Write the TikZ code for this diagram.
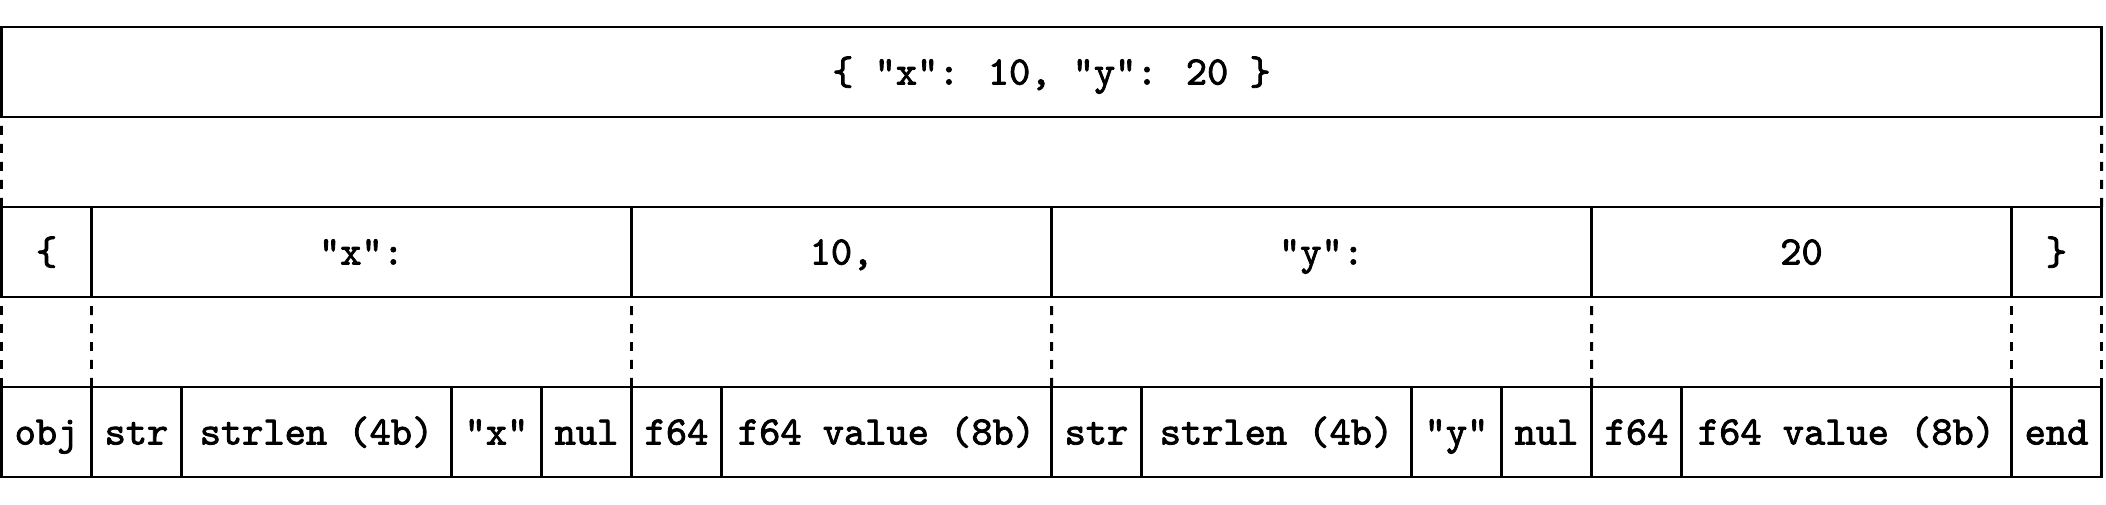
\documentclass[tikz,border=0pt]{standalone}
\usepackage{fontspec}
\newfontfamily\codefont{lmmono10-regular.otf}[FakeBold=2]

\begin{document}
\begin{tikzpicture}[line width=0.85pt,
    cell/.style={rectangle,draw,inner sep=0pt,outer sep=0pt,minimum height=0.9cm,text height=0.25cm,text depth=0pt,font=\codefont\fontsize{11.5}{13}\selectfont},
    gap/.style={dash pattern=on 0.09cm off 0.09cm}]
        \useasboundingbox (0,0) rectangle (21.06,5.05);
        % whole object
        \node [cell, minimum width=21cm] (t) at (10.515,4.33) {\{ "x": 10, "y": 20 \}};
        % tokens
        \node [cell, minimum width=0.9cm] (m1) at (0.465,2.53) {\{};
        \node [cell, minimum width=5.4cm] (m2) at (3.615,2.53) {"x":};
        \node [cell, minimum width=4.2cm] (m3) at (8.415,2.53) {10,};
        \node [cell, minimum width=5.4cm] (m4) at (13.215,2.53) {"y":};
        \node [cell, minimum width=4.2cm] (m5) at (18.015,2.53) {20};
        \node [cell, minimum width=0.9cm] (m6) at (20.565,2.53) {\}};
        % bytes
        \node [cell, minimum width=0.9cm] (b1) at (0.465,0.73) {obj};
        \node [cell, minimum width=0.9cm] (b2) at (1.365,0.73) {str};
        \node [cell, minimum width=2.7cm] (b3) at (3.165,0.73) {strlen (4b)};
        \node [cell, minimum width=0.9cm] (b4) at (4.965,0.73) {"x"};
        \node [cell, minimum width=0.9cm] (b5) at (5.865,0.73) {nul};
        \node [cell, minimum width=0.9cm] (b6) at (6.765,0.73) {f64};
        \node [cell, minimum width=3.3cm] (b7) at (8.865,0.73) {f64 value (8b)};
        \node [cell, minimum width=0.9cm] (b8) at (10.965,0.73) {str};
        \node [cell, minimum width=2.7cm] (b9) at (12.765,0.73) {strlen (4b)};
        \node [cell, minimum width=0.9cm] (b10) at (14.565,0.73) {"y"};
        \node [cell, minimum width=0.9cm] (b11) at (15.465,0.73) {nul};
        \node [cell, minimum width=0.9cm] (b12) at (16.365,0.73) {f64};
        \node [cell, minimum width=3.3cm] (b13) at (18.465,0.73) {f64 value (8b)};
        \node [cell, minimum width=0.9cm] (b14) at (20.565,0.73) {end};
        \path [draw, gap] (m1.north west) -- (t.south west);
        \path [draw, gap] (m6.north east) -- (t.south east);
        \path [draw, gap] (b1.north west) -- (m1.south west);
        \path [draw, gap] (b2.north west) -- (m2.south west);
        \path [draw, gap] (b6.north west) -- (m3.south west);
        \path [draw, gap] (b8.north west) -- (m4.south west);
        \path [draw, gap] (b12.north west) -- (m5.south west);
        \path [draw, gap] (b14.north west) -- (m6.south west);
        \path [draw, gap] (b14.north east) -- (m6.south east);
    \end{tikzpicture}
\end{document}
